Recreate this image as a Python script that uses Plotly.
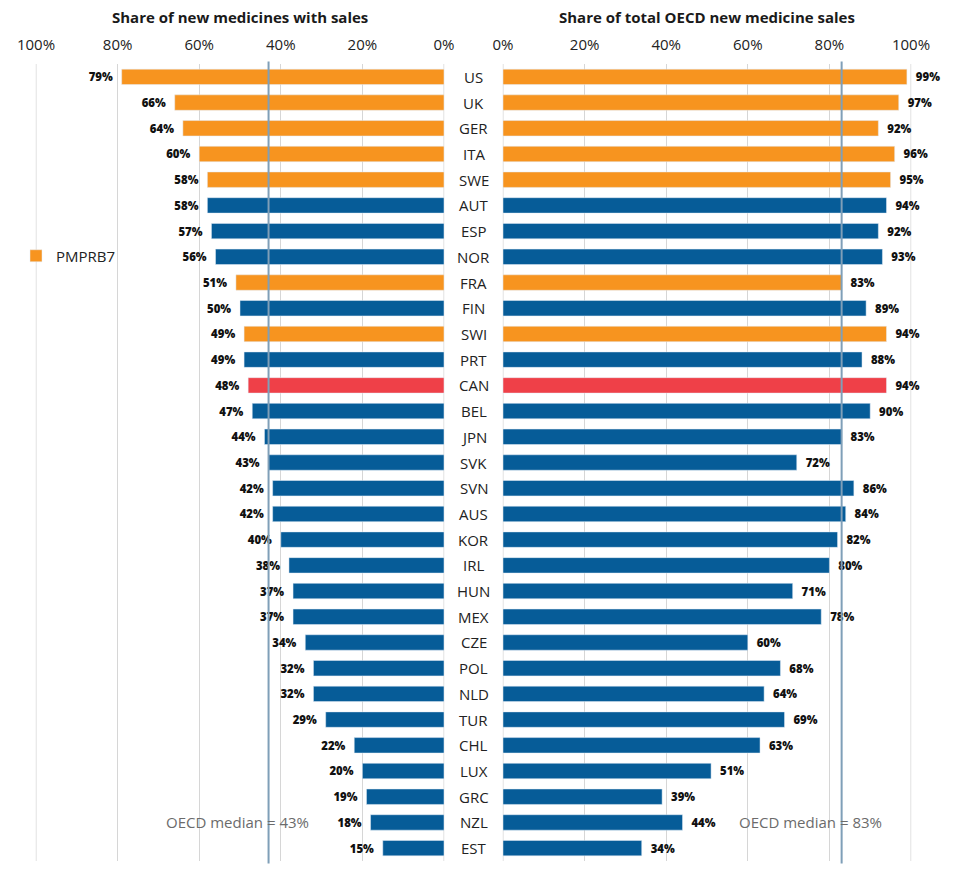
import plotly.graph_objects as go

countries = ["US", "UK", "GER", "ITA", "SWE", "AUT", "ESP", "NOR", "FRA", "FIN", "SWI",
             "PRT", "CAN", "BEL", "JPN", "SVK", "SVN", "AUS", "KOR", "IRL", "HUN", "MEX",
             "CZE", "POL", "NLD", "TUR", "CHL", "LUX", "GRC", "NZL", "EST"]
share_with_sales = [79, 66, 64, 60, 58, 58, 57, 56, 51, 50, 49, 49, 48, 47, 44, 43, 42, 42,
                    40, 38, 37, 37, 34, 32, 32, 29, 22, 20, 19, 18, 15]
share_of_sales = [99, 97, 92, 96, 95, 94, 92, 93, 83, 89, 94, 88, 94, 90, 83, 72, 86, 84,
                  82, 80, 71, 78, 60, 68, 64, 69, 63, 51, 39, 44, 34]
pmprb7 = ["US", "UK", "GER", "ITA", "SWE", "FRA", "SWI"]
canada = "CAN"
median_left = 43
median_right = 83
tick_vals = [0, 20, 40, 60, 80, 100]
tick_text = ["0%", "20%", "40%", "60%", "80%", "100%"]
title_left = "Share of new medicines with sales"
title_right = "Share of total OECD new medicine sales"

ORANGE = "#F7941F"
BLUE = "#065C98"
RED = "#EF4048"
MEDIAN = "#7F9FB8"
GRID = "#D6D6D6"
FONT = "Open Sans"
OFF = 8  # page body margin
W, H = 972 - OFF, 869 - OFF


def px(x):
    return (x - OFF) / W


def py(y):
    return 1 - (y - OFF) / H


colors = [RED if c == canada else (ORANGE if c in pmprb7 else BLUE) for c in countries]
left_text = [f"{v}%  " for v in share_with_sales]
right_text = [f"  {v}%" for v in share_of_sales]
label_font = dict(family=FONT, size=14, color="#111111", weight=800)

fig = go.Figure()
fig.add_trace(go.Bar(
    y=countries, x=share_with_sales, orientation="h", marker_color=colors,
    xaxis="x", yaxis="y", text=left_text, textposition="outside", cliponaxis=False,
    showlegend=False, textfont=label_font, hoverinfo="skip",
))
fig.add_trace(go.Bar(
    y=countries, x=share_of_sales, orientation="h", marker_color=colors,
    xaxis="x2", yaxis="y2", text=right_text, textposition="outside", cliponaxis=False,
    showlegend=False, textfont=label_font, hoverinfo="skip",
))
fig.add_trace(go.Bar(
    y=[None], x=[None], orientation="h", marker_color=ORANGE, name="PMPRB7",
    xaxis="x", yaxis="y", showlegend=True,
))

yd = [py(861), py(64)]
xl = [px(35.6), px(444.4)]
xr = [px(502.6), px(911.4)]


def xaxis_cfg(domain, anchor, rng):
    return dict(
        domain=domain, anchor=anchor, range=rng, autorange=False,
        tickmode="array", tickvals=tick_vals, ticktext=tick_text, side="top",
        showgrid=True, gridcolor=GRID, gridwidth=1, zeroline=False, showline=False,
        ticks="", ticklabelstandoff=10,
        tickfont=dict(family=FONT, size=15, color="#222"), fixedrange=True,
        automargin=False,
    )


def yaxis_cfg(anchor):
    return dict(domain=yd, anchor=anchor, autorange=False, range=[30.5, -0.5],
                showticklabels=False, showgrid=False, zeroline=False, ticks="",
                automargin=False, fixedrange=True)


fig.update_layout(
    width=W, height=H, margin=dict(l=0, r=0, t=0, b=0, autoexpand=False),
    paper_bgcolor="white", plot_bgcolor="white",
    bargap=0.4,
    xaxis=xaxis_cfg(xl, "y", [100.1, -0.1]),
    xaxis2=xaxis_cfg(xr, "y2", [-0.1, 100.1]),
    yaxis=yaxis_cfg("x"),
    yaxis2=yaxis_cfg("x2"),
    legend=dict(x=px(16), y=py(256), xanchor="left", yanchor="middle",
                itemwidth=30,
                font=dict(family=FONT, size=15, color="#222"), bgcolor="rgba(0,0,0,0)"),
    font=dict(family=FONT),
)

# edge gridlines (0% and 100%) that plotly clips at the range ends
for xa, ya in (("x", "y domain"), ("x2", "y2 domain")):
    for v in (tick_vals[0], tick_vals[-1]):
        fig.add_shape(type="line", xref=xa, yref=ya, x0=v, x1=v, y0=0, y1=1,
                      line=dict(color=GRID, width=1), layer="below")

# median lines
fig.add_shape(type="line", xref="x", yref="y domain", x0=median_left, x1=median_left,
              y0=-0.003, y1=1.003, line=dict(color=MEDIAN, width=2), layer="above")
fig.add_shape(type="line", xref="x2", yref="y2 domain", x0=median_right, x1=median_right,
              y0=-0.003, y1=1.003, line=dict(color=MEDIAN, width=2), layer="above")

# country labels
for c in countries:
    fig.add_annotation(x=px(473.5), xref="paper", y=c, yref="y", text=c, showarrow=False,
                       font=dict(family=FONT, size=15, color="#222"),
                       xanchor="center", yanchor="middle")

# titles
fig.add_annotation(x=(xl[0] + xl[1]) / 2, y=py(17), xref="paper", yref="paper",
                   text=f"<b>{title_left}</b>", showarrow=False,
                   xanchor="center", yanchor="middle",
                   font=dict(family=FONT, size=15, color="#1A1A1A"))
fig.add_annotation(x=(xr[0] + xr[1]) / 2, y=py(17), xref="paper", yref="paper",
                   text=f"<b>{title_right}</b>", showarrow=False,
                   xanchor="center", yanchor="middle",
                   font=dict(family=FONT, size=15, color="#1A1A1A"))

# median labels
fig.add_annotation(x=px(237), y=countries[-2], xref="paper", yref="y",
                   text=f"OECD median = {median_left}%", showarrow=False,
                   xanchor="center", yanchor="middle",
                   font=dict(family=FONT, size=15, color="#6B6B6B"))
fig.add_annotation(x=px(810), y=countries[-2], xref="paper", yref="y",
                   text=f"OECD median = {median_right}%", showarrow=False,
                   xanchor="center", yanchor="middle",
                   font=dict(family=FONT, size=15, color="#6B6B6B"))

fig.write_html("out.html")
